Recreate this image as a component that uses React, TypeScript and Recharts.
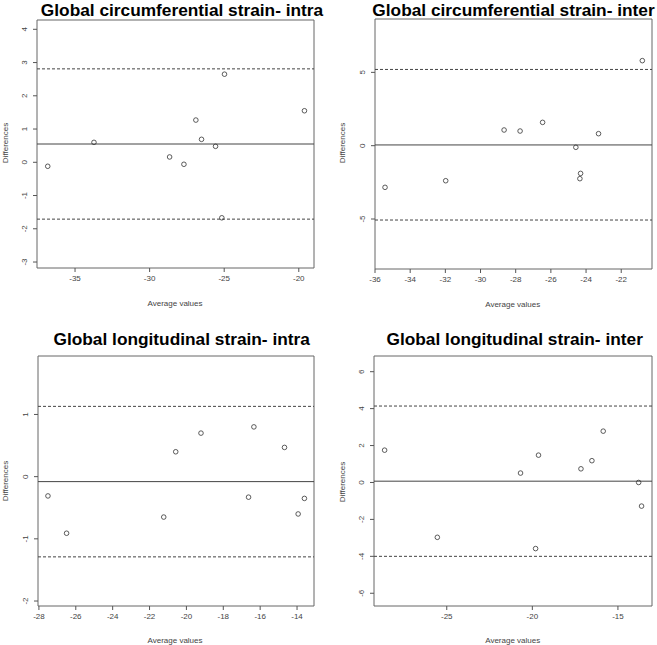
import React from "react";
import {
  ScatterChart,
  Scatter,
  XAxis,
  YAxis,
  ReferenceLine,
  ReferenceArea,
} from "recharts";

// ---------- Data ----------
const gcsIntraAvg = [-36.83, -33.73, -28.66, -27.7, -26.9, -26.52, -25.58, -24.98, -25.16, -19.62];
const gcsIntraDiff = [-0.12, 0.6, 0.16, -0.06, 1.27, 0.69, 0.48, 2.65, -1.67, 1.55];
const gcsIntraStats = [0.55, 2.81, -1.71]; // mean, upper LoA, lower LoA

const gcsInterAvg = [-35.43, -31.98, -28.66, -27.75, -26.47, -24.58, -24.31, -24.35, -23.29, -20.8];
const gcsInterDiff = [-2.84, -2.39, 1.07, 1.0, 1.59, -0.11, -1.89, -2.25, 0.82, 5.8];
const gcsInterStats = [0.05, 5.2, -5.07];

const glsIntraAvg = [-27.51, -26.5, -21.23, -20.58, -19.21, -16.63, -16.34, -14.68, -13.94, -13.6];
const glsIntraDiff = [-0.31, -0.91, -0.65, 0.4, 0.7, -0.33, 0.8, 0.47, -0.6, -0.35];
const glsIntraStats = [-0.08, 1.13, -1.29];

const glsInterAvg = [-28.63, -25.55, -20.69, -19.81, -19.64, -17.16, -16.52, -15.86, -13.79, -13.62];
const glsInterDiff = [1.75, -2.97, 0.51, -3.58, 1.48, 0.74, 1.18, 2.78, 0.0, -1.28];
const glsInterStats = [0.07, 4.14, -4.0];

const titles = [
  "Global circumferential strain- intra",
  "Global circumferential strain- inter",
  "Global longitudinal strain- intra",
  "Global longitudinal strain- inter",
];
const xLabel = "Average values";
const yLabel = "Differences";

const xTicks1 = [-35, -30, -25, -20];
const yTicks1 = [-3, -2, -1, 0, 1, 2, 3, 4];
const xTicks2 = [-36, -34, -32, -30, -28, -26, -24, -22];
const yTicks2 = [-5, 0, 5];
const xTicks3 = [-28, -26, -24, -22, -20, -18, -16, -14];
const yTicks3 = [-2, -1, 0, 1];
const xTicks4 = [-25, -20, -15];
const yTicks4 = [-6, -4, -2, 0, 2, 4, 6];

const xDomain1 = [-37.55, -18.98];
const yDomain1 = [-3.18, 4.28];
const xDomain2 = [-36.0, -20.25];
const yDomain2 = [-8.41, 8.64];
const xDomain3 = [-28.05, -13.08];
const yDomain3 = [-2.08, 1.94];
const xDomain4 = [-29.25, -13.01];
const yDomain4 = [-6.69, 6.85];

// ---------- Styling / layout ----------
const FONT = "'Liberation Sans', Arial, Helvetica, sans-serif";
const TEXT = "#444";
const LINE = "#555";

type Box = { l: number; t: number; w: number; h: number };

const panels = [
  { avg: gcsIntraAvg, diff: gcsIntraDiff, stats: gcsIntraStats, xt: xTicks1, yt: yTicks1, xd: xDomain1, yd: yDomain1,
    box: { l: 37, t: 20, w: 277, h: 248 }, title: titles[0], tx: 182, ty: 15.8, xlx: 175, xly: 306, ylx: 7.5, yly: 143 },
  { avg: gcsInterAvg, diff: gcsInterDiff, stats: gcsInterStats, xt: xTicks2, yt: yTicks2, xd: xDomain2, yd: yDomain2,
    box: { l: 375, t: 19, w: 277, h: 250 }, title: titles[1], tx: 513.5, ty: 15.8, xlx: 512.7, xly: 307, ylx: 345, yly: 143 },
  { avg: glsIntraAvg, diff: glsIntraDiff, stats: glsIntraStats, xt: xTicks3, yt: yTicks3, xd: xDomain3, yd: yDomain3,
    box: { l: 38, t: 356, w: 276, h: 250 }, title: titles[2], tx: 181.7, ty: 345, xlx: 175, xly: 643, ylx: 7.5, yly: 481 },
  { avg: glsInterAvg, diff: glsInterDiff, stats: glsInterStats, xt: xTicks4, yt: yTicks4, xd: xDomain4, yd: yDomain4,
    box: { l: 374, t: 356, w: 278, h: 250 }, title: titles[3], tx: 514.7, ty: 345, xlx: 512.7, xly: 643, ylx: 345, yly: 482 },
];

const YTick = (props: any) => {
  const { x, y, payload } = props;
  return (
    <text
      x={x}
      y={y}
      transform={`rotate(-90, ${x}, ${y})`}
      textAnchor="middle"
      fontSize={8}
      fontFamily={FONT}
      fill={TEXT}
    >
      {payload.value}
    </text>
  );
};

const XTick = (props: any) => {
  const { x, y, payload } = props;
  return (
    <text x={x} y={y + 6} textAnchor="middle" fontSize={8} fontFamily={FONT} fill={TEXT}>
      {payload.value}
    </text>
  );
};

const Dot = (props: any) => {
  const { cx, cy } = props;
  if (cx == null || cy == null) return null;
  return <circle cx={cx} cy={cy} r={2.3} fill="none" stroke="#333" strokeWidth={0.8} />;
};

function Panel({ p }: { p: any }) {
  const box: Box = p.box;
  const data = p.avg.map((x: number, i: number) => ({ x, y: p.diff[i] }));
  const W = box.w + 40;
  const H = box.h + 50;
  return (
    <div style={{ position: "absolute", left: box.l - 35, top: box.t - 10, width: W, height: H }}>
      <ScatterChart width={W} height={H} margin={{ top: 10, right: 5, bottom: 10, left: 5 }}>
        <XAxis
          type="number"
          dataKey="x"
          domain={p.xd}
          ticks={p.xt}
          interval={0}
          allowDataOverflow
          axisLine={false}
          tickLine={{ stroke: LINE }}
          tickSize={4}
          tickMargin={3}
          height={30}
          tick={<XTick />}
        />
        <YAxis
          type="number"
          dataKey="y"
          domain={p.yd}
          ticks={p.yt}
          interval={0}
          allowDataOverflow
          axisLine={false}
          tickLine={{ stroke: LINE }}
          tickSize={4}
          tickMargin={6}
          width={30}
          tick={<YTick />}
        />
        <ReferenceArea
          x1={p.xd[0]}
          x2={p.xd[1]}
          y1={p.yd[0]}
          y2={p.yd[1]}
          fill="none"
          fillOpacity={0}
          stroke="#666"
          strokeWidth={1}
        />
        <ReferenceLine y={p.stats[0]} stroke="#444" strokeWidth={1} />
        <ReferenceLine y={p.stats[1]} stroke="#444" strokeWidth={1} strokeDasharray="3 2" />
        <ReferenceLine y={p.stats[2]} stroke="#444" strokeWidth={1} strokeDasharray="3 2" />
        <Scatter data={data} shape={<Dot />} isAnimationActive={false} />
      </ScatterChart>
    </div>
  );
}

export default function App() {
  return (
    <div
      style={{
        position: "absolute",
        left: 0,
        top: 0,
        width: 657,
        height: 645,
        background: "#fff",
        overflow: "hidden",
      }}
    >
      {panels.map((p, i) => (
        <Panel key={i} p={p} />
      ))}
      <svg
        width={657}
        height={645}
        style={{ position: "absolute", left: 0, top: 0, pointerEvents: "none" }}
      >
        {panels.map((p, i) => (
          <g key={i}>
            <text x={p.tx} y={p.ty} textAnchor="middle" fontSize={17.3} fontWeight="bold" fontFamily={FONT} fill="#000">
              {p.title}
            </text>
            <text x={p.xlx} y={p.xly} textAnchor="middle" fontSize={8} fontFamily={FONT} fill={TEXT}>
              {xLabel}
            </text>
            <text
              x={p.ylx}
              y={p.yly}
              textAnchor="middle"
              fontSize={8}
              fontFamily={FONT}
              fill={TEXT}
              transform={`rotate(-90, ${p.ylx}, ${p.yly})`}
            >
              {yLabel}
            </text>
          </g>
        ))}
      </svg>
    </div>
  );
}
